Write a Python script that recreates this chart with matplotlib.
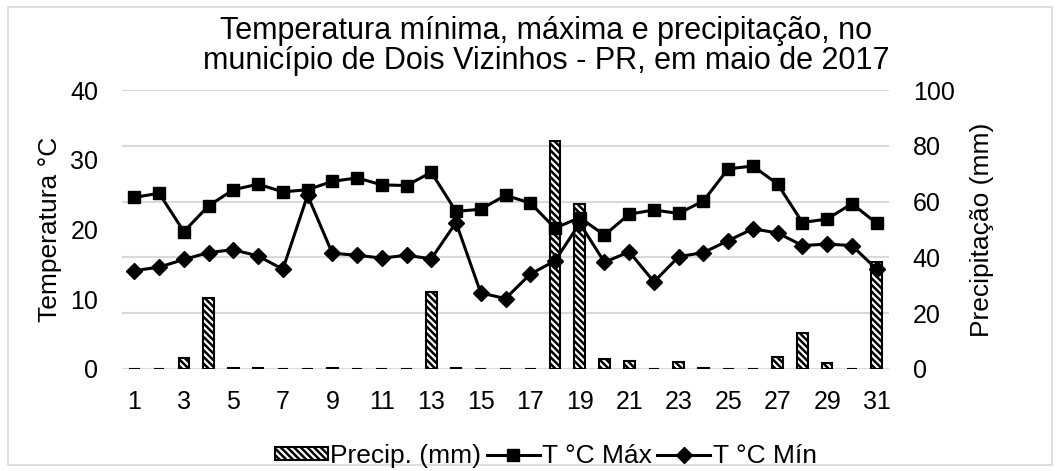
import matplotlib
matplotlib.use("Agg")
import matplotlib.pyplot as plt
from matplotlib.patches import Rectangle
import numpy as np

plt.rcParams['font.family'] = ['Liberation Sans', 'DejaVu Sans']
plt.rcParams['hatch.linewidth'] = 1.8

############# Data ##################################
days = list(range(1, 32))
t_max = [24.6, 25.2, 19.7, 23.4, 25.7, 26.5, 25.4, 25.7, 26.9, 27.4,
         26.4, 26.3, 28.2, 22.6, 22.9, 24.9, 23.8, 20.2, 21.7, 19.2,
         22.2, 22.8, 22.3, 24.1, 28.7, 29.1, 26.5, 21.0, 21.5, 23.7, 20.9]
t_min = [14.1, 14.6, 15.7, 16.7, 17.1, 16.2, 14.3, 24.9, 16.6, 16.3,
         15.9, 16.3, 15.8, 21.0, 10.9, 10.1, 13.6, 15.5, 20.9, 15.3,
         16.8, 12.5, 16.1, 16.7, 18.4, 20.1, 19.5, 17.7, 17.9, 17.7, 14.3]
precip = [0, 0, 3.8, 25.3, 0.5, 0.2, 0, 0, 0.3, 0,
          0, 0, 27.6, 0.3, 0, 0, 0, 81.7, 59.1, 3.5,
          3.0, 0, 2.4, 0.3, 0, 0, 4.4, 13.0, 2.0, 0, 38.5]
xtick_labels = [str(d) for d in range(1, 32, 2)]

title_lines = ["Temperatura mínima, máxima e precipitação, no",
               "município de Dois Vizinhos - PR, em maio de 2017"]


def make_chart():
    fig = plt.figure(figsize=(10.6, 4.71), dpi=100)
    ax = fig.add_axes([0.1151, 0.2166, 0.7236, 0.5923])
    ax2 = ax.twinx()

    # bars go under the lines: put the precipitation axis behind
    ax2.set_zorder(ax.zorder - 1)
    ax.patch.set_visible(False)

    bars = ax2.bar(days, precip, width=0.43, color='white', edgecolor='black',
                   linewidth=1.5, hatch='\\\\\\\\\\', label='Precip. (mm)', zorder=3)
    ax2.set_ylim(0, 100)
    ax2.set_yticks(np.arange(0, 101, 20))
    ax2.grid(axis='y', color='#d9d9d9', linewidth=1.5, zorder=0)
    ax2.set_axisbelow(True)

    l1, = ax.plot(days, t_max, color='black', linewidth=2.2, marker='s',
                  markersize=8, label='T °C Máx')
    l2, = ax.plot(days, t_min, color='black', linewidth=2.2, marker='D',
                  markersize=8, label='T °C Mín')
    ax.set_ylim(0, 40)
    ax.set_yticks(np.arange(0, 41, 10))
    ax.set_xlim(0.5, 31.5)
    ax.set_xticks(range(1, 32, 2))
    ax.set_xticklabels(xtick_labels)

    for a in (ax, ax2):
        for s in a.spines.values():
            s.set_visible(False)
        a.tick_params(length=0, labelsize=18, colors='black')
    ax.tick_params(axis='y', pad=17)
    ax.tick_params(axis='x', pad=15)
    ax2.tick_params(axis='y', pad=17)

    ax.set_ylabel('Temperatura °C', fontsize=19, labelpad=6)
    ax2.set_ylabel('Precipitação (mm)', fontsize=19, labelpad=11)

    fig.text(0.515, 1 - 39 / 471, title_lines[0], ha='center', va='baseline',
             fontsize=22)
    fig.text(0.515, 1 - 69 / 471, title_lines[1], ha='center', va='baseline',
             fontsize=22)

    fig.legend([bars, l1, l2], ['Precip. (mm)', 'T °C Máx', 'T °C Mín'],
               loc='center', bbox_to_anchor=(0.515, 0.032), ncol=3,
               frameon=False, fontsize=19, handlelength=2.0, handleheight=0.4,
               handletextpad=0.1, columnspacing=0.2, borderpad=0)

    fig.patches.append(Rectangle((0.008, 0.012), 0.984, 0.974,
                                 transform=fig.transFigure, fill=False,
                                 edgecolor='#d9d9d9', linewidth=1.2))
    fig.savefig('out.png', dpi=100)


def main():
    make_chart()


if __name__ == "__main__":
    main()
